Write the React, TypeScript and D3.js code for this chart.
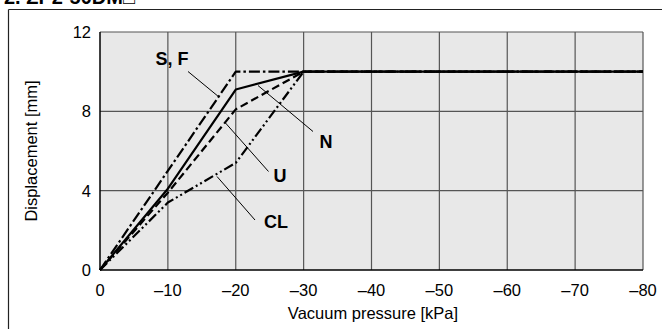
import React from "react";
import * as d3 from "d3";

const xTicks = [0, -10, -20, -30, -40, -50, -60, -70, -80];
const yTicks = [0, 4, 8, 12];

const seriesSF = [
  { x: 0, y: 0 }, { x: -20, y: 10 }, { x: -30, y: 10 }, { x: -80, y: 10 },
];
const seriesN = [
  { x: 0, y: 0 }, { x: -10, y: 4.1 }, { x: -20, y: 9.1 }, { x: -30, y: 10 }, { x: -80, y: 10 },
];
const seriesU = [
  { x: 0, y: 0 }, { x: -10, y: 3.9 }, { x: -20, y: 8.1 }, { x: -30, y: 10 }, { x: -80, y: 10 },
];
const seriesCL = [
  { x: 0, y: 0 }, { x: -10, y: 3.4 }, { x: -20, y: 5.4 }, { x: -30, y: 10 }, { x: -80, y: 10 },
];

const FONT = "'Liberation Sans', Arial, Helvetica, sans-serif";

export default function App() {
  const x = d3.scaleLinear().domain([0, -80]).range([100, 643]);
  const y = d3.scaleLinear().domain([0, 12]).range([270, 32]);
  const line = d3
    .line<{ x: number; y: number }>()
    .x((d) => x(d.x))
    .y((d) => y(d.y));

  const series = [
    { data: seriesSF, dash: "11,3,2.5,3" },
    { data: seriesU, dash: "8,4" },
    { data: seriesCL, dash: "10,3,2,3,2,3" },
    { data: seriesN, dash: "" },
  ];

  return (
    <svg
      width={662}
      height={329}
      style={{ position: "absolute", left: 0, top: 0, background: "#fff" }}
      fontFamily={FONT}
    >
      <text x={4} y={4} fontSize={20} fontWeight="bold" fill="#000">
        2. ZP2-50DM□
      </text>
      <line x1={8.5} y1={9.5} x2={662} y2={9.5} stroke="#222" strokeWidth={1.2} />
      <line x1={8.5} y1={9.5} x2={8.5} y2={329} stroke="#222" strokeWidth={1.2} />

      <rect x={x(0)} y={y(12)} width={x(-80) - x(0)} height={y(0) - y(12)} fill="#e8e8e8" />
      {xTicks.slice(1).map((t) => (
        <line key={"gx" + t} x1={x(t)} x2={x(t)} y1={y(0)} y2={y(12)} stroke="#555" strokeWidth={1.2} />
      ))}
      {yTicks.slice(1).map((t) => (
        <line key={"gy" + t} x1={x(0)} x2={x(-80)} y1={y(t)} y2={y(t)} stroke="#555" strokeWidth={1.2} />
      ))}
      <line x1={x(0)} x2={x(-80)} y1={y(0)} y2={y(0)} stroke="#000" strokeWidth={1.5} />
      <line x1={x(0)} x2={x(0)} y1={y(0)} y2={y(12)} stroke="#000" strokeWidth={1.5} />

      {series.map((s, i) => (
        <path
          key={i}
          d={line(s.data) || ""}
          fill="none"
          stroke="#000"
          strokeWidth={2.2}
          strokeDasharray={s.dash || undefined}
          strokeLinejoin="round"
        />
      ))}

      {/* leaders */}
      <line x1={188} y1={71.5} x2={219} y2={97} stroke="#000" strokeWidth={1} />
      <line x1={258} y1={85.5} x2={313} y2={131.5} stroke="#000" strokeWidth={1} />
      <line x1={225.5} y1={123} x2={268.5} y2={171.5} stroke="#000" strokeWidth={1} />
      <line x1={217} y1={176.5} x2={255} y2={220} stroke="#000" strokeWidth={1} />

      <text x={172} y={64.5} fontSize={18} fontWeight="bold" textAnchor="middle">S, F</text>
      <text x={326} y={148} fontSize={18} fontWeight="bold" textAnchor="middle">N</text>
      <text x={280} y={181.5} fontSize={18} fontWeight="bold" textAnchor="middle">U</text>
      <text x={276} y={228} fontSize={18} fontWeight="bold" textAnchor="middle">CL</text>

      {yTicks.map((t) => (
        <text key={"yl" + t} x={91} y={y(t) + 6} fontSize={16.5} textAnchor="end">
          {t}
        </text>
      ))}
      {xTicks.map((t) => (
        <text key={"xl" + t} x={x(t)} y={296} fontSize={16.5} textAnchor="middle">
          {t === 0 ? "0" : "\u2013" + Math.abs(t)}
        </text>
      ))}

      <text x={373} y={319} fontSize={16.5} textAnchor="middle">
        Vacuum pressure [kPa]
      </text>
      <text
        transform={`translate(37,${(y(0) + y(12)) / 2}) rotate(-90)`}
        fontSize={16.5}
        textAnchor="middle"
      >
        Displacement [mm]
      </text>
    </svg>
  );
}
